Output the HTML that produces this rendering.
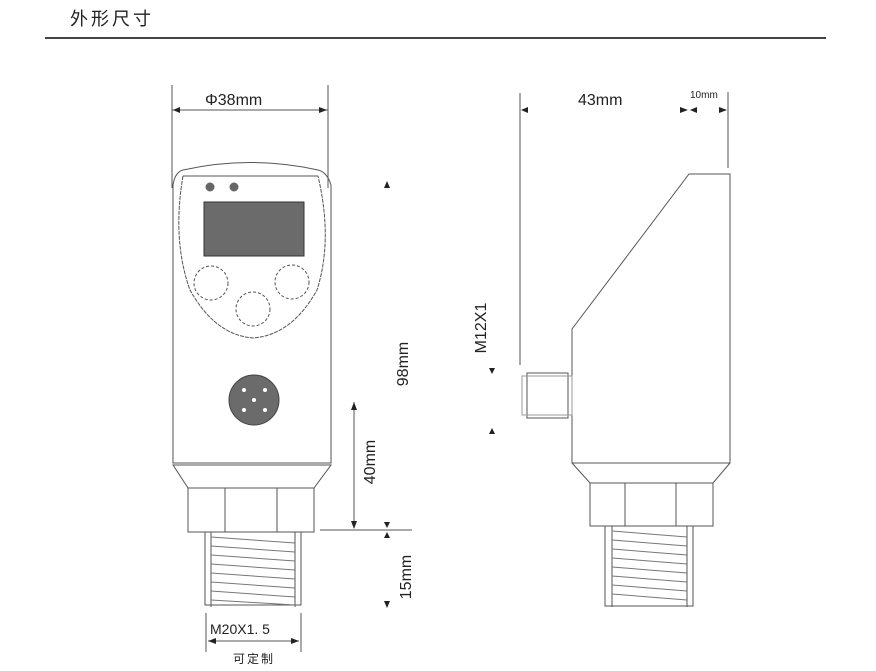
<!DOCTYPE html>
<html><head><meta charset="utf-8"><style>
html,body{margin:0;padding:0;background:#fff;}
body{width:876px;height:671px;overflow:hidden;position:relative;}
svg{position:absolute;left:0;top:0;}
text{font-family:"Liberation Sans","Noto Sans CJK SC",sans-serif;fill:#222;}
</style></head><body>
<svg width="876" height="671" viewBox="0 0 876 671">
<text x="70" y="25" font-size="18" style="letter-spacing:3px">外形尺寸</text>
<line x1="45" y1="38" x2="826" y2="38" stroke="#444" stroke-width="2"/>
<g stroke="#555" stroke-width="1" fill="none">
<!-- left view -->
<line x1="172" y1="85" x2="172" y2="188"/><line x1="328" y1="85" x2="328" y2="188"/>
<line x1="172" y1="110" x2="328" y2="110"/>
<path d="M173 463 L173 185 Q175 172 183 170 Q250 155 318 170 Q327 172 331 185 L331 463 Z"/>
<path d="M183 176 L318 176"/>
<path d="M183 176 Q172 240 190 290 Q215 335 253 338 Q292 335 317 290 Q333 240 318 176" stroke-dasharray="4 1"/>
<path d="M173 465 L188 488 L314 488 L331 465 Z" fill="#fff"/>
<rect x="188" y="488" width="126" height="44"/>
<line x1="225" y1="488" x2="225" y2="532"/><line x1="277" y1="488" x2="277" y2="532"/>
<rect x="205" y="532" width="96" height="73"/>
<line x1="211" y1="532" x2="211" y2="607"/><line x1="295" y1="532" x2="295" y2="607"/>
<g stroke="#777">
<path d="M211 537 L295 543 M211 546 L295 552 M211 555 L295 561 M211 564 L295 570 M211 573 L295 579 M211 582 L295 588 M211 591 L295 597 M211 600 L295 605"/>
</g>
<circle cx="211" cy="283" r="17" stroke-dasharray="3 2"/>
<circle cx="292" cy="282" r="17" stroke-dasharray="3 2"/>
<circle cx="253" cy="309" r="17" stroke-dasharray="3 2"/>
<!-- dims left -->
<line x1="320" y1="530" x2="412" y2="530"/>
<line x1="354" y1="402" x2="354" y2="528"/>
<line x1="206" y1="613" x2="206" y2="652"/><line x1="301" y1="613" x2="301" y2="652"/>
<line x1="208" y1="641" x2="299" y2="641"/>
<!-- right view -->
<line x1="520" y1="93" x2="520" y2="365"/>
<line x1="728" y1="92" x2="728" y2="168"/>
<path d="M572 463 L572 329 L689 174 L730 174 L730 463 Z"/>
<path d="M572 463 L590 483 L713 483 L730 463"/>
<rect x="590" y="483" width="123" height="43"/>
<line x1="625" y1="483" x2="625" y2="526"/><line x1="676" y1="483" x2="676" y2="526"/>
<rect x="605" y="526" width="88" height="80"/>
<line x1="612" y1="526" x2="612" y2="607"/><line x1="687" y1="526" x2="687" y2="607"/>
<g stroke="#777">
<path d="M612 531 L687 537 M612 540 L687 546 M612 549 L687 555 M612 558 L687 564 M612 567 L687 573 M612 576 L687 582 M612 585 L687 591 M612 594 L687 600"/>
</g>
<rect x="527" y="373" width="41" height="45"/>
<rect x="522" y="376" width="50" height="39" stroke="#999"/>
</g>
<rect x="204" y="202" width="100" height="54" fill="#6b6b6b" stroke="#333"/>
<circle cx="210" cy="187" r="4.5" fill="#666"/><circle cx="234" cy="187" r="4.5" fill="#666"/>
<circle cx="254" cy="400" r="25" fill="#6b6b6b" stroke="#444"/>
<g fill="#fff"><circle cx="244" cy="390" r="2"/><circle cx="265" cy="390" r="2"/><circle cx="254" cy="400" r="2"/><circle cx="244" cy="410" r="2"/><circle cx="265" cy="410" r="2"/></g>
<g fill="#222">
<path d="M173 110 l7 -3 v6z"/><path d="M327 110 l-8 -3 v6z"/>
<path d="M521 110 l7 -3 v6z"/>
<path d="M688 110 l-8 -3 v6z"/><path d="M690 110 l7 -3 v6z"/><path d="M727 110 l-8 -3 v6z"/>
<path d="M387 181 l-3 7 h6z"/>
<path d="M354 402 l-3 8 h6z"/><path d="M354 529 l-3 -8 h6z"/>
<path d="M387 528 l-3 -6 h6z"/><path d="M387 532 l-3 6 h6z"/><path d="M387 608 l-3 -7 h6z"/>
<path d="M492 374 l-3 -6 h6z"/><path d="M492 428 l-3 6 h6z"/>
<path d="M208 641 l8 -3 v6z"/><path d="M299 641 l-8 -3 v6z"/>
</g>
<text x="205" y="105" font-size="16">Φ38mm</text>
<text x="578" y="105" font-size="16">43mm</text>
<text x="690" y="98" font-size="10">10mm</text>
<text x="210" y="634" font-size="14">M20X1. 5</text>
<text x="233" y="663" font-size="12" style="letter-spacing:2px">可定制</text>
<text transform="translate(408,364) rotate(-90)" text-anchor="middle" font-size="16">98mm</text>
<text transform="translate(375,462) rotate(-90)" text-anchor="middle" font-size="16">40mm</text>
<text transform="translate(411,577) rotate(-90)" text-anchor="middle" font-size="16">15mm</text>
<text transform="translate(486,328) rotate(-90)" text-anchor="middle" font-size="16">M12X1</text>
</svg>
</body></html>
